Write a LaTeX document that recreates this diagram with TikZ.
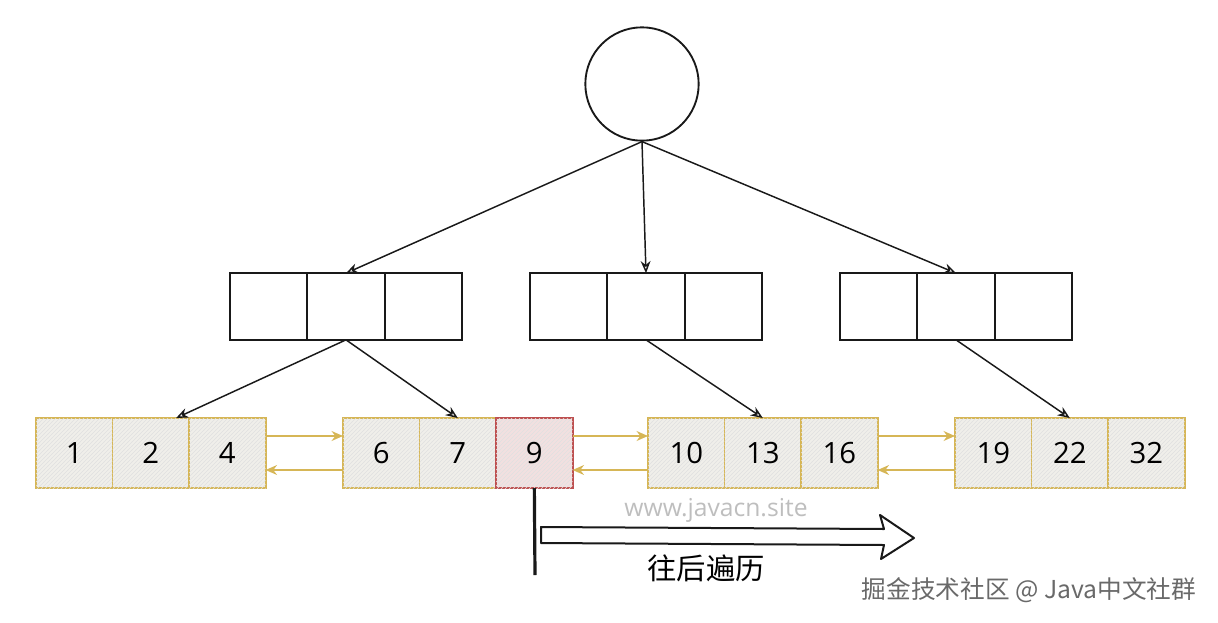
\documentclass[tikz,border=0pt]{standalone}
\usepackage{fontspec}
\setmainfont{Open Sans}
\newfontfamily\cjkfont{Noto Sans CJK SC}
\usetikzlibrary{arrows.meta,positioning,patterns}
\definecolor{leafedge}{RGB}{214,182,86}
\definecolor{leaffill}{RGB}{240,239,234}
\definecolor{hotedge}{RGB}{190,80,80}
\definecolor{hotfill}{RGB}{242,224,224}
\definecolor{inkline}{RGB}{25,25,25}
\definecolor{marktext}{RGB}{190,190,190}
\definecolor{credittext}{RGB}{105,105,105}
\tikzset{
  font=\fontsize{22}{24}\selectfont,
  cell/.style={
    draw,
    line width=1.4pt,
    outer sep=0pt,
    inner sep=0pt,
    anchor=west
  },
  inner/.style={
    cell,
    draw=inkline,
    fill=white,
    minimum width=58pt,
    minimum height=50pt
  },
  leaf/.style={
    cell,
    draw=leafedge,
    fill=leaffill,
    postaction={pattern=north east lines,pattern color=black!12},
    minimum width=57.4pt,
    minimum height=52.5pt
  },
  hot/.style={
    leaf,
    draw=hotedge,
    fill=hotfill
  },
  root/.style={
    circle,
    draw=inkline,
    line width=1.4pt,
    fill=white,
    minimum size=85pt
  },
  treearrow/.style={-{Stealth[open,length=3.2mm,width=2.6mm]},draw=inkline,line width=1.1pt},
  linkarrow/.style={-{Stealth[open,length=3mm,width=2.6mm]},draw=leafedge,line width=1.4pt},
  scanline/.style={draw=inkline,line width=2.4pt}
}

\begin{document}
\begin{tikzpicture}[x=0.75pt,y=-0.75pt]

  \useasboundingbox (0,0) rectangle (1218,622);

  % root
  \node[root] at (642,84) (root) {};

  % middle level
  \node[inner] at (230,306.5) (m1a) {};
  \node[inner,right=0pt of m1a] (m1b) {};
  \node[inner,right=0pt of m1b] (m1c) {};

  \node[inner] at (530,306.5) (m2a) {};
  \node[inner,right=0pt of m2a] (m2b) {};
  \node[inner,right=0pt of m2b] (m2c) {};

  \node[inner] at (840,306.5) (m3a) {};
  \node[inner,right=0pt of m3a] (m3b) {};
  \node[inner,right=0pt of m3b] (m3c) {};

  % leaf level
  \node[leaf] at (36,453) (l1) {1};
  \node[leaf,right=0pt of l1] (l2) {2};
  \node[leaf,right=0pt of l2] (l4) {4};

  \node[leaf] at (343,453) (l6) {6};
  \node[leaf,right=0pt of l6] (l7) {7};
  \node[hot,right=0pt of l7] (l9) {9};

  \node[leaf] at (648,453) (l10) {10};
  \node[leaf,right=0pt of l10] (l13) {13};
  \node[leaf,right=0pt of l13] (l16) {16};

  \node[leaf] at (955,453) (l19) {19};
  \node[leaf,right=0pt of l19] (l22) {22};
  \node[leaf,right=0pt of l22] (l32) {32};

  % tree edges
  \draw[treearrow] (root.south) -- (m1b.north);
  \draw[treearrow] (root.south) -- (m2b.north);
  \draw[treearrow] (root.south) -- (m3b.north);

  \draw[treearrow] (m1b.south) -- ([xshift=19pt]l2.north);
  \draw[treearrow] (m1b.south) -- (l7.north);
  \draw[treearrow] (m2b.south) -- (l13.north);
  \draw[treearrow] (m3b.south) -- (l22.north);

  % leaf links
  \draw[linkarrow] ([yshift=12.75pt]l4.east) -- ([yshift=12.75pt]l6.west);
  \draw[linkarrow] ([yshift=-12.75pt]l6.west) -- ([yshift=-12.75pt]l4.east);
  \draw[linkarrow] ([yshift=12.75pt]l9.east) -- ([yshift=12.75pt]l10.west);
  \draw[linkarrow] ([yshift=-12.75pt]l10.west) -- ([yshift=-12.75pt]l9.east);
  \draw[linkarrow] ([yshift=12.75pt]l16.east) -- ([yshift=12.75pt]l19.west);
  \draw[linkarrow] ([yshift=-12.75pt]l19.west) -- ([yshift=-12.75pt]l16.east);

  % scan pointer
  \coordinate (scanend) at (535,575);
  \draw[scanline] (l9.south) -- (scanend);
  \draw[inkline,line width=1.5pt,fill=white,line join=round]
    (541,527) -- (884,529) -- (880,515) -- (914,538) -- (881,559) -- (884,545) -- (541,543) -- cycle;

  \node[text=marktext,font=\fontsize{18.5}{20}\selectfont] at (716,510) (site) {www.javacn.site};
  \node[font=\cjkfont\fontsize{22}{24}\selectfont] at (706,568) (scan) {往后遍历};
  \node[text=credittext,font=\cjkfont\fontsize{18.5}{20}\selectfont,anchor=east] at (1201,590) (credit) {掘金技术社区 @ Java中文社群};

\end{tikzpicture}
\end{document}
